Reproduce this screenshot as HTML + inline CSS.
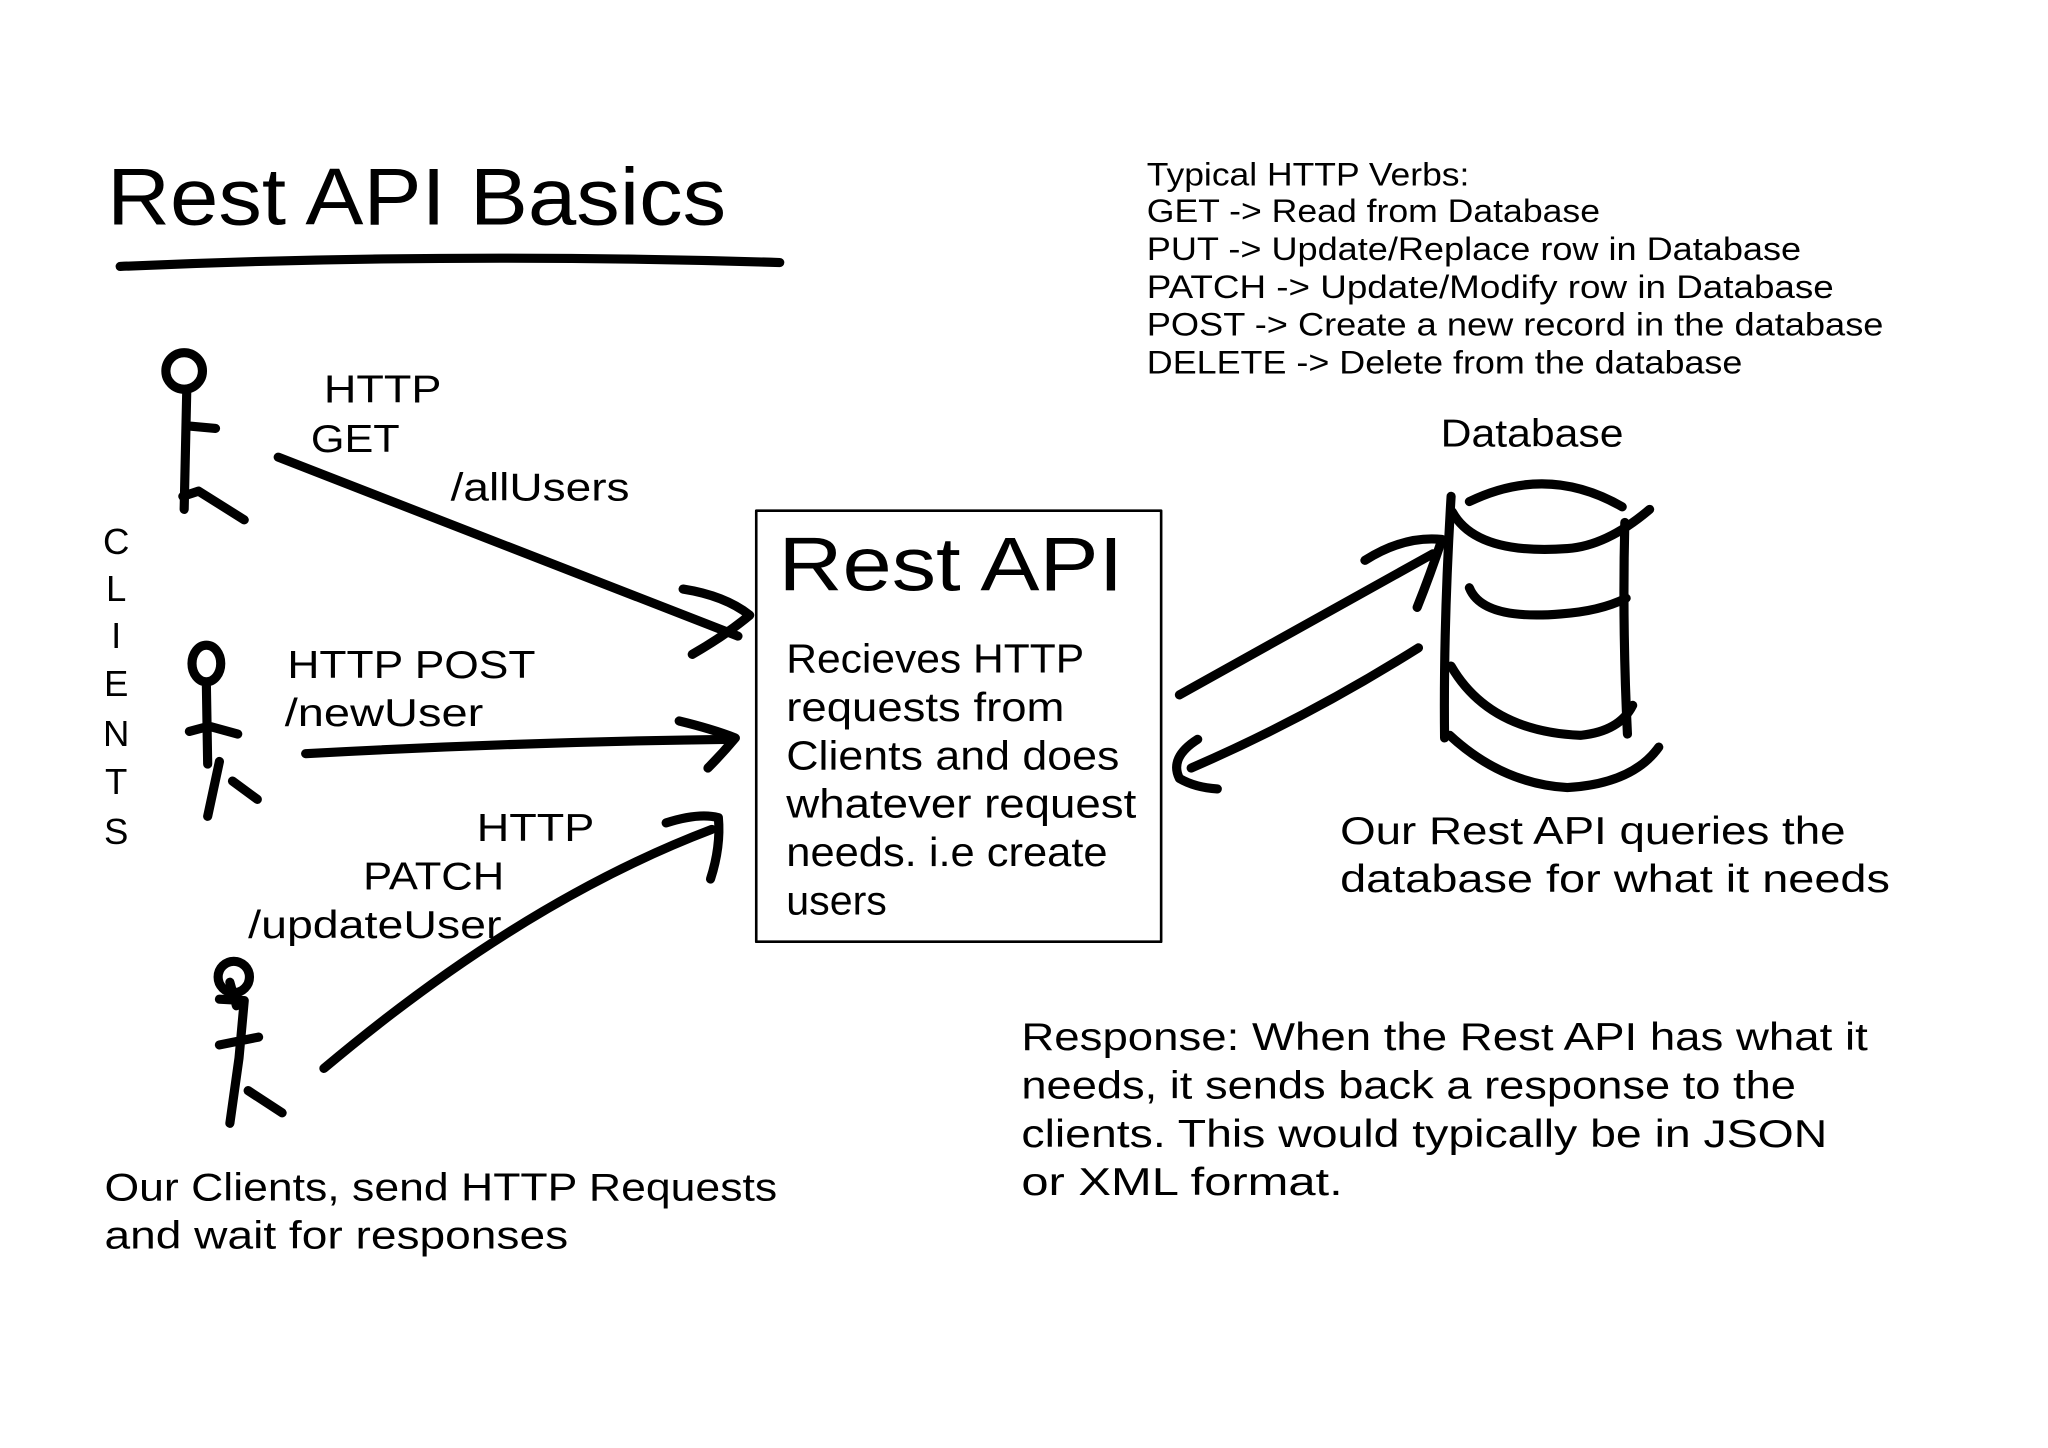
<!DOCTYPE html>
<html><head><meta charset="utf-8"><style>
html,body{margin:0;padding:0;background:#fff;}
svg{display:block;}
text{font-family:"Liberation Sans",sans-serif;fill:#000;}
</style></head><body>
<svg width="2048" height="1448" viewBox="0 0 1568 1108.6" preserveAspectRatio="none" xmlns="http://www.w3.org/2000/svg">
<rect width="1568" height="1109" fill="#fff"/>
<g fill="none" stroke="#000" stroke-linecap="round" stroke-linejoin="round">
<path d="M92 204 Q340 193 597 201" stroke-width="7"/>
<circle cx="141" cy="284" r="14" stroke-width="7"/>
<path d="M143 298 L141 390 M143 326 L165 328 M140 380 L152 376 L187 398" stroke-width="7"/>
<ellipse cx="158" cy="508" rx="11" ry="14" stroke-width="7"/>
<path d="M158 524 L159 585 M145 560 L160 556 L182 562 M168 583 L159 625 M178 598 L197 612" stroke-width="7"/>
<circle cx="179" cy="748" r="12" stroke-width="7"/>
<path d="M176 752 L181 770 M168 765 L187 766 L183 810 L176 860 M168 800 L198 794 M190 835 L216 852" stroke-width="7"/>
<path d="M213 350 L565 487" stroke-width="7"/>
<path d="M523 451 Q555 456 574 471 Q556 486 530 501" stroke-width="7"/>
<path d="M234 577 Q400 568 561 566" stroke-width="7"/>
<path d="M520 552 Q545 558 563 565 Q553 577 542 588" stroke-width="7"/>
<path d="M248 818 Q400 690 545 635" stroke-width="7"/>
<path d="M510 630 Q535 622 550 626 Q552 648 544 673" stroke-width="7"/>
<rect x="579" y="391" width="310" height="330" stroke-width="2"/>
<path d="M903 532 L1097 424" stroke-width="7"/>
<path d="M1045 429 Q1075 410 1104 413 Q1095 440 1085 465" stroke-width="7"/>
<path d="M1086 496 Q1000 550 912 588" stroke-width="7"/>
<path d="M917 566 Q895 580 903 596 Q915 603 932 604" stroke-width="7"/>
<path d="M1111 380 Q1105 480 1106 565" stroke-width="7"/>
<path d="M1125 384 Q1185 355 1242 388" stroke-width="7"/>
<path d="M1112 392 Q1130 425 1200 420 Q1230 418 1263 390" stroke-width="7"/>
<path d="M1244 400 Q1242 480 1246 562" stroke-width="7"/>
<path d="M1125 450 Q1135 475 1195 470 Q1225 468 1245 458" stroke-width="7"/>
<path d="M1111 510 Q1140 560 1210 563 Q1240 560 1250 540" stroke-width="7"/>
<path d="M1110 563 Q1150 600 1200 603 Q1250 600 1270 572" stroke-width="7"/>
</g>
<text x="82" y="172" font-size="62" textLength="474" lengthAdjust="spacingAndGlyphs">Rest API Basics</text>
<g font-size="25">
<text x="878" y="142" textLength="247" lengthAdjust="spacingAndGlyphs">Typical HTTP Verbs:</text>
<text x="878" y="170" textLength="347" lengthAdjust="spacingAndGlyphs">GET -&gt; Read from Database</text>
<text x="878" y="199" textLength="501" lengthAdjust="spacingAndGlyphs">PUT -&gt; Update/Replace row in Database</text>
<text x="878" y="228" textLength="526" lengthAdjust="spacingAndGlyphs">PATCH -&gt; Update/Modify row in Database</text>
<text x="878" y="257" textLength="564" lengthAdjust="spacingAndGlyphs">POST -&gt; Create a new record in the database</text>
<text x="878" y="286" textLength="456" lengthAdjust="spacingAndGlyphs">DELETE -&gt; Delete from the database</text>
</g>
<g font-size="28" text-anchor="middle">
<text x="89" y="424">C</text><text x="89" y="460">L</text><text x="89" y="496">I</text>
<text x="89" y="533">E</text><text x="89" y="571">N</text><text x="89" y="608">T</text><text x="89" y="646">S</text>
</g>
<g font-size="30">
<text x="248" y="308" textLength="90" lengthAdjust="spacingAndGlyphs">HTTP</text>
<text x="238" y="346" textLength="68" lengthAdjust="spacingAndGlyphs">GET</text>
<text x="345" y="383" textLength="137" lengthAdjust="spacingAndGlyphs">/allUsers</text>
<text x="220" y="519" textLength="190" lengthAdjust="spacingAndGlyphs">HTTP POST</text>
<text x="218" y="556" textLength="152" lengthAdjust="spacingAndGlyphs">/newUser</text>
<text x="365" y="644" textLength="90" lengthAdjust="spacingAndGlyphs">HTTP</text>
<text x="278" y="681" textLength="108" lengthAdjust="spacingAndGlyphs">PATCH</text>
<text x="190" y="718" textLength="194" lengthAdjust="spacingAndGlyphs">/updateUser</text>
<text x="80" y="919" textLength="515" lengthAdjust="spacingAndGlyphs">Our Clients, send HTTP Requests</text>
<text x="80" y="956" textLength="355" lengthAdjust="spacingAndGlyphs">and wait for responses</text>
<text x="1103" y="342" textLength="140" lengthAdjust="spacingAndGlyphs">Database</text>
<text x="1026" y="646" textLength="387" lengthAdjust="spacingAndGlyphs">Our Rest API queries the</text>
<text x="1026" y="683" textLength="421" lengthAdjust="spacingAndGlyphs">database for what it needs</text>
<text x="782" y="804" textLength="648" lengthAdjust="spacingAndGlyphs">Response: When the Rest API has what it</text>
<text x="782" y="841" textLength="593" lengthAdjust="spacingAndGlyphs">needs, it sends back a response to the</text>
<text x="782" y="878" textLength="617" lengthAdjust="spacingAndGlyphs">clients. This would typically be in JSON</text>
<text x="782" y="915" textLength="246" lengthAdjust="spacingAndGlyphs">or XML format.</text>
</g>
<text x="596" y="452" font-size="58" textLength="264" lengthAdjust="spacingAndGlyphs">Rest API</text>
<g font-size="31">
<text x="602" y="515" textLength="228" lengthAdjust="spacingAndGlyphs">Recieves HTTP</text>
<text x="602" y="552" textLength="213" lengthAdjust="spacingAndGlyphs">requests from</text>
<text x="602" y="589" textLength="255" lengthAdjust="spacingAndGlyphs">Clients and does</text>
<text x="602" y="626" textLength="268" lengthAdjust="spacingAndGlyphs">whatever request</text>
<text x="602" y="663" textLength="246" lengthAdjust="spacingAndGlyphs">needs. i.e create</text>
<text x="602" y="700" textLength="77" lengthAdjust="spacingAndGlyphs">users</text>
</g>
</svg>
</body></html>
